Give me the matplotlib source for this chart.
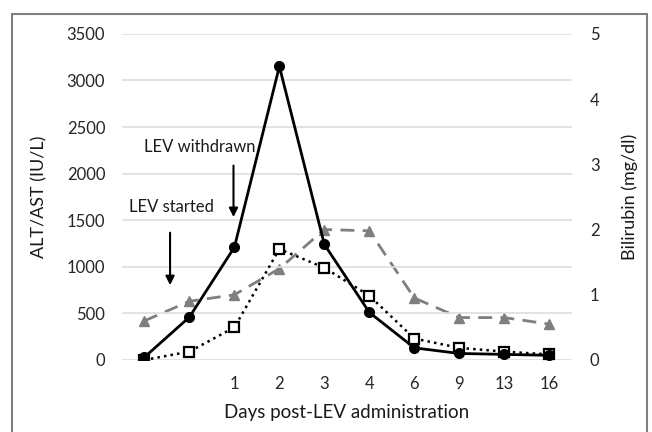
import matplotlib.pyplot as plt
from matplotlib.patches import Rectangle

plt.rcParams['font.family'] = ['Lato', 'DejaVu Sans']

days = ['', '', '1', '2', '3', '4', '6', '9', '13', '16']
alt = [30, 460, 1210, 3150, 1240, 510, 130, 70, 60, 50]
ast = [0, 90, 350, 1190, 990, 690, 230, 130, 90, 60]
bilirubin = [0.6, 0.9, 1.0, 1.4, 2.0, 1.98, 0.95, 0.65, 0.65, 0.55]

x = list(range(len(days)))

fig = plt.figure(figsize=(6.52, 4.32), dpi=100)
ax = fig.add_axes([0.187, 0.1667, 0.690, 0.755])
ax2 = ax.twinx()

ax.set_ylim(0, 3500)
ax.set_yticks(range(0, 3501, 500))
ax.set_xlim(-0.5, 9.5)
ax.set_xticks(x)
ax.set_xticklabels(days)
ax.grid(axis='y', color='#dedede', lw=1.2)
ax.set_axisbelow(True)

ax2.set_ylim(0, 5)
ax2.set_yticks(range(0, 6))

for a in (ax, ax2):
    for s in a.spines.values():
        s.set_visible(False)
    a.tick_params(length=0, labelsize=12, colors='#262626')
ax.tick_params(axis='x', pad=11.5)
ax.tick_params(axis='y', pad=12)
ax2.tick_params(axis='y', pad=13)

ax2.plot(x, bilirubin, color='#7f7f7f', ls=(0, (5, 3)), lw=2, marker='^', ms=7.5, zorder=2)
ax.plot(x, ast, color='black', ls=':', lw=1.8, marker='s', ms=7, mfc='white', mew=1.6, zorder=3)
ax.plot(x, alt, color='black', lw=2, marker='o', ms=7, zorder=4)
ax.set_zorder(ax2.get_zorder() + 1)
ax.patch.set_visible(False)

ax.set_ylabel('ALT/AST (IU/L)', fontsize=13, color='#1a1a1a', labelpad=14)
ax2.set_ylabel('Bilirubin (mg/dl)', fontsize=13, color='#1a1a1a', labelpad=16)
ax.set_xlabel('Days post-LEV administration', fontsize=13.5, color='#1a1a1a', labelpad=9)

ax.text(-0.34, 1643, 'LEV started', fontsize=12, color='#1a1a1a', ha='left', va='center')
ax.annotate('', xy=(0.57, 773), xytext=(0.57, 1396),
            arrowprops=dict(arrowstyle='-|>', color='black', lw=1.5, mutation_scale=13))
ax.text(0.0, 2288, 'LEV withdrawn', fontsize=12, color='#1a1a1a', ha='left', va='center')
ax.annotate('', xy=(1.98, 1504), xytext=(1.98, 2116),
            arrowprops=dict(arrowstyle='-|>', color='black', lw=1.5, mutation_scale=13))

fig.patches.append(Rectangle((12 / 652, -0.1), 635 / 652, 1.1 - 14 / 432,
                             transform=fig.transFigure, fill=False,
                             edgecolor='#7f7f7f', lw=1.5))

fig.savefig('out.png', dpi=100)
